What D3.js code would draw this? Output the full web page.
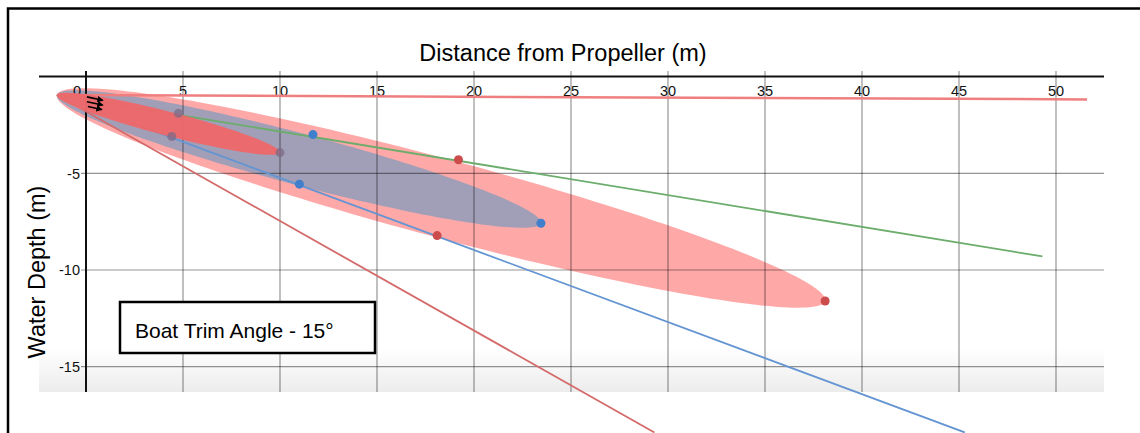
<!DOCTYPE html>
<html>
  <head>
    <meta charset="utf-8">
    <title>Propeller wash - boat trim 15</title>
    <script src="https://cdn.jsdelivr.net/npm/d3@7"></script>
    <style>
      body { margin: 0; background: #fff; }
      svg { display: block; font-family: "Liberation Sans", Arial, sans-serif; }
    </style>
  </head>
  <body>
    <svg id="chart" width="1140" height="433">
      <defs>
        <linearGradient id="band" x1="0" x2="0" y1="0" y2="1">
          <stop offset="0%" stop-color="#ffffff"></stop>
          <stop offset="100%" stop-color="#ececec"></stop>
        </linearGradient>
        <marker id="head" viewBox="0 0 10 10" refX="8" refY="5" markerWidth="4" markerHeight="4" orient="auto">
          <path d="M0,0L10,5L0,10z" fill="#000"></path>
        </marker>
      </defs>
    </svg>

    <script>
      // data (metres)
      xTicks = [0, 5, 10, 15, 20, 25, 30, 35, 40, 45, 50];
      yTicks = [-5, -10, -15];
      propeller = [-1.5, -0.95];

      // rays leaving the propeller
      rayColours = ["#ef7f7f", "#6cad6c", "#6495d2", "#d46a6a"];
      rayEnds = [[51.6, -1.18], [49.3, -9.3], [45.3, -18.4], [29.3, -18.4]];

      // wash plumes: far tip and half width
      plumeColours = ["#ffa8a8", "#a19fb7", "#ec686a"];
      plumeTips = [[38.1, -11.6], [23.45, -7.58], [10.0, -3.93]];
      plumeHalfWidths = [2.03, 1.33, 0.62];

      // dots on each plume (top, bottom, tip)
      dotsOuter = [[19.2, -4.3], [18.1, -8.22], [38.1, -11.6]];
      dotsMiddle = [[11.7, -3.0], [11.0, -5.56], [23.45, -7.58]];
      dotsInner = [[4.76, -1.9], [4.42, -3.1], [10.0, -3.93]];

      // flow arrows at the propeller
      arrowStarts = [[0.05, -1.05], [0.05, -1.3], [0.1, -1.55]];
      arrowEnds = [[0.85, -1.22], [0.85, -1.47], [0.8, -1.7]];

      trimLabel = "Boat Trim Angle - 15°";

      // elements
      svg = d3.select("#chart");

      // frame
      plotLeft = 39;
      plotRight = 1104;
      plotTop = 71;
      plotBottom = 392;

      x = d3.scaleLinear()
        .domain([0, 50])
        .range([86, 1056]);
      y = d3.scaleLinear()
        .domain([0, -15])
        .range([76.6, 366.7]);

      line = d3.line()
        .x(function(d) { return x(d[0]); })
        .y(function(d) { return y(d[1]); });

      // outer border of the picture
      svg.append("path")
        .attr("d", "M8,434V8.5H1140")
        .attr("fill", "none")
        .attr("stroke", "#000")
        .attr("stroke-width", 2.5);

      // shaded strip at the bottom of the plot
      svg.append("rect")
        .attr("x", plotLeft)
        .attr("y", 348)
        .attr("width", plotRight - plotLeft)
        .attr("height", plotBottom - 348)
        .attr("fill", "url(#band)");

      // plumes (ellipses from the propeller to the tip)
      function plumePath(tip, halfWidth) {
        var cx = (propeller[0] + tip[0]) / 2,
            cy = (propeller[1] + tip[1]) / 2,
            dx = tip[0] - propeller[0],
            dy = tip[1] - propeller[1],
            len = Math.sqrt(dx * dx + dy * dy),
            ux = dx / len, uy = dy / len,
            a = len / 2;
        return d3.range(0, 2 * Math.PI, Math.PI / 90).map(function(t) {
          return [
            cx + a * Math.cos(t) * ux - halfWidth * Math.sin(t) * uy,
            cy + a * Math.cos(t) * uy + halfWidth * Math.sin(t) * ux
          ];
        });
      }

      plumes = svg.append("g").attr("id", "plumes");
      [0, 1].forEach(function(i) {
        plumes.append("path")
          .attr("d", line.curve(d3.curveLinearClosed)(plumePath(plumeTips[i], plumeHalfWidths[i])))
          .attr("fill", plumeColours[i]);
      });
      line.curve(d3.curveLinear);

      // grid
      grid = svg.append("g").attr("id", "grid");
      grid.selectAll(".vgrid")
        .data(xTicks.filter(function(d) { return d != 0; }))
        .enter().append("line")
          .attr("x1", function(d) { return x(d); })
          .attr("x2", function(d) { return x(d); })
          .attr("y1", plotTop)
          .attr("y2", plotBottom)
          .attr("stroke", "rgba(0,0,0,0.42)")
          .attr("stroke-width", 1.2);
      grid.selectAll(".hgrid")
        .data(yTicks)
        .enter().append("line")
          .attr("x1", 81)
          .attr("x2", plotRight)
          .attr("y1", function(d) { return y(d); })
          .attr("y2", function(d) { return y(d); })
          .attr("stroke", "rgba(0,0,0,0.42)")
          .attr("stroke-width", 1.2);

      // axes
      svg.append("line")
        .attr("x1", plotLeft)
        .attr("x2", plotRight)
        .attr("y1", y(0))
        .attr("y2", y(0))
        .attr("stroke", "#111")
        .attr("stroke-width", 2);
      svg.append("line")
        .attr("x1", x(0))
        .attr("x2", x(0))
        .attr("y1", plotTop)
        .attr("y2", plotBottom)
        .attr("stroke", "#111")
        .attr("stroke-width", 2);

      svg.selectAll(".xlabel")
        .data(xTicks)
        .enter().append("text")
          .attr("x", function(d) { return x(d) + (d == 0 ? -9 : 0); })
          .attr("y", 96)
          .attr("text-anchor", "middle")
          .attr("font-size", 14.5)
          .attr("fill", "#111")
          .text(function(d) { return d; });

      svg.selectAll(".ylabel")
        .data(yTicks)
        .enter().append("text")
          .attr("x", 80)
          .attr("y", function(d) { return y(d); })
          .attr("dy", "0.36em")
          .attr("text-anchor", "end")
          .attr("font-size", 14.5)
          .attr("fill", "#111")
          .text(function(d) { return d; });

      // rays
      svg.selectAll(".ray")
        .data(rayEnds)
        .enter().append("path")
          .attr("d", function(d) { return line([propeller, d]); })
          .attr("fill", "none")
          .attr("stroke", function(d, i) { return rayColours[i]; })
          .attr("stroke-width", function(d, i) { return i == 0 ? 2.5 : 1.8; });

      // inner plume on top of the rays
      svg.append("path")
        .attr("d", line.curve(d3.curveLinearClosed)(plumePath(plumeTips[2], plumeHalfWidths[2])))
        .attr("fill", plumeColours[2])
        .attr("fill-opacity", 0.97);
      line.curve(d3.curveLinear);

      // dots
      function drawDots(data, colour) {
        svg.append("g").selectAll("circle")
          .data(data)
          .enter().append("circle")
            .attr("cx", function(d) { return x(d[0]); })
            .attr("cy", function(d) { return y(d[1]); })
            .attr("r", 4.5)
            .attr("fill", colour);
      }
      drawDots(dotsOuter, "#cc4b4b");
      drawDots(dotsMiddle, "#3f7fcc");
      drawDots(dotsInner, "rgba(125,105,135,0.75)");

      // arrows
      svg.selectAll(".arrow")
        .data(arrowStarts)
        .enter().append("path")
          .attr("d", function(d, i) { return line([d, arrowEnds[i]]); })
          .attr("stroke", "#000")
          .attr("stroke-width", 1.6)
          .attr("marker-end", "url(#head)");

      // titles
      svg.append("text")
        .attr("x", 563)
        .attr("y", 61)
        .attr("text-anchor", "middle")
        .attr("font-size", 23.5)
        .attr("fill", "#000")
        .text("Distance from Propeller (m)");

      svg.append("text")
        .attr("transform", "translate(45,272) rotate(-90)")
        .attr("text-anchor", "middle")
        .attr("font-size", 23.5)
        .attr("fill", "#000")
        .text("Water Depth (m)");

      // trim angle box
      svg.append("rect")
        .attr("x", 120)
        .attr("y", 302)
        .attr("width", 255)
        .attr("height", 51)
        .attr("fill", "#fff")
        .attr("stroke", "#000")
        .attr("stroke-width", 2.5);
      svg.append("text")
        .attr("x", 135)
        .attr("y", 337.5)
        .attr("font-size", 21)
        .attr("fill", "#000")
        .text(trimLabel);
    </script>
  </body>
</html>
